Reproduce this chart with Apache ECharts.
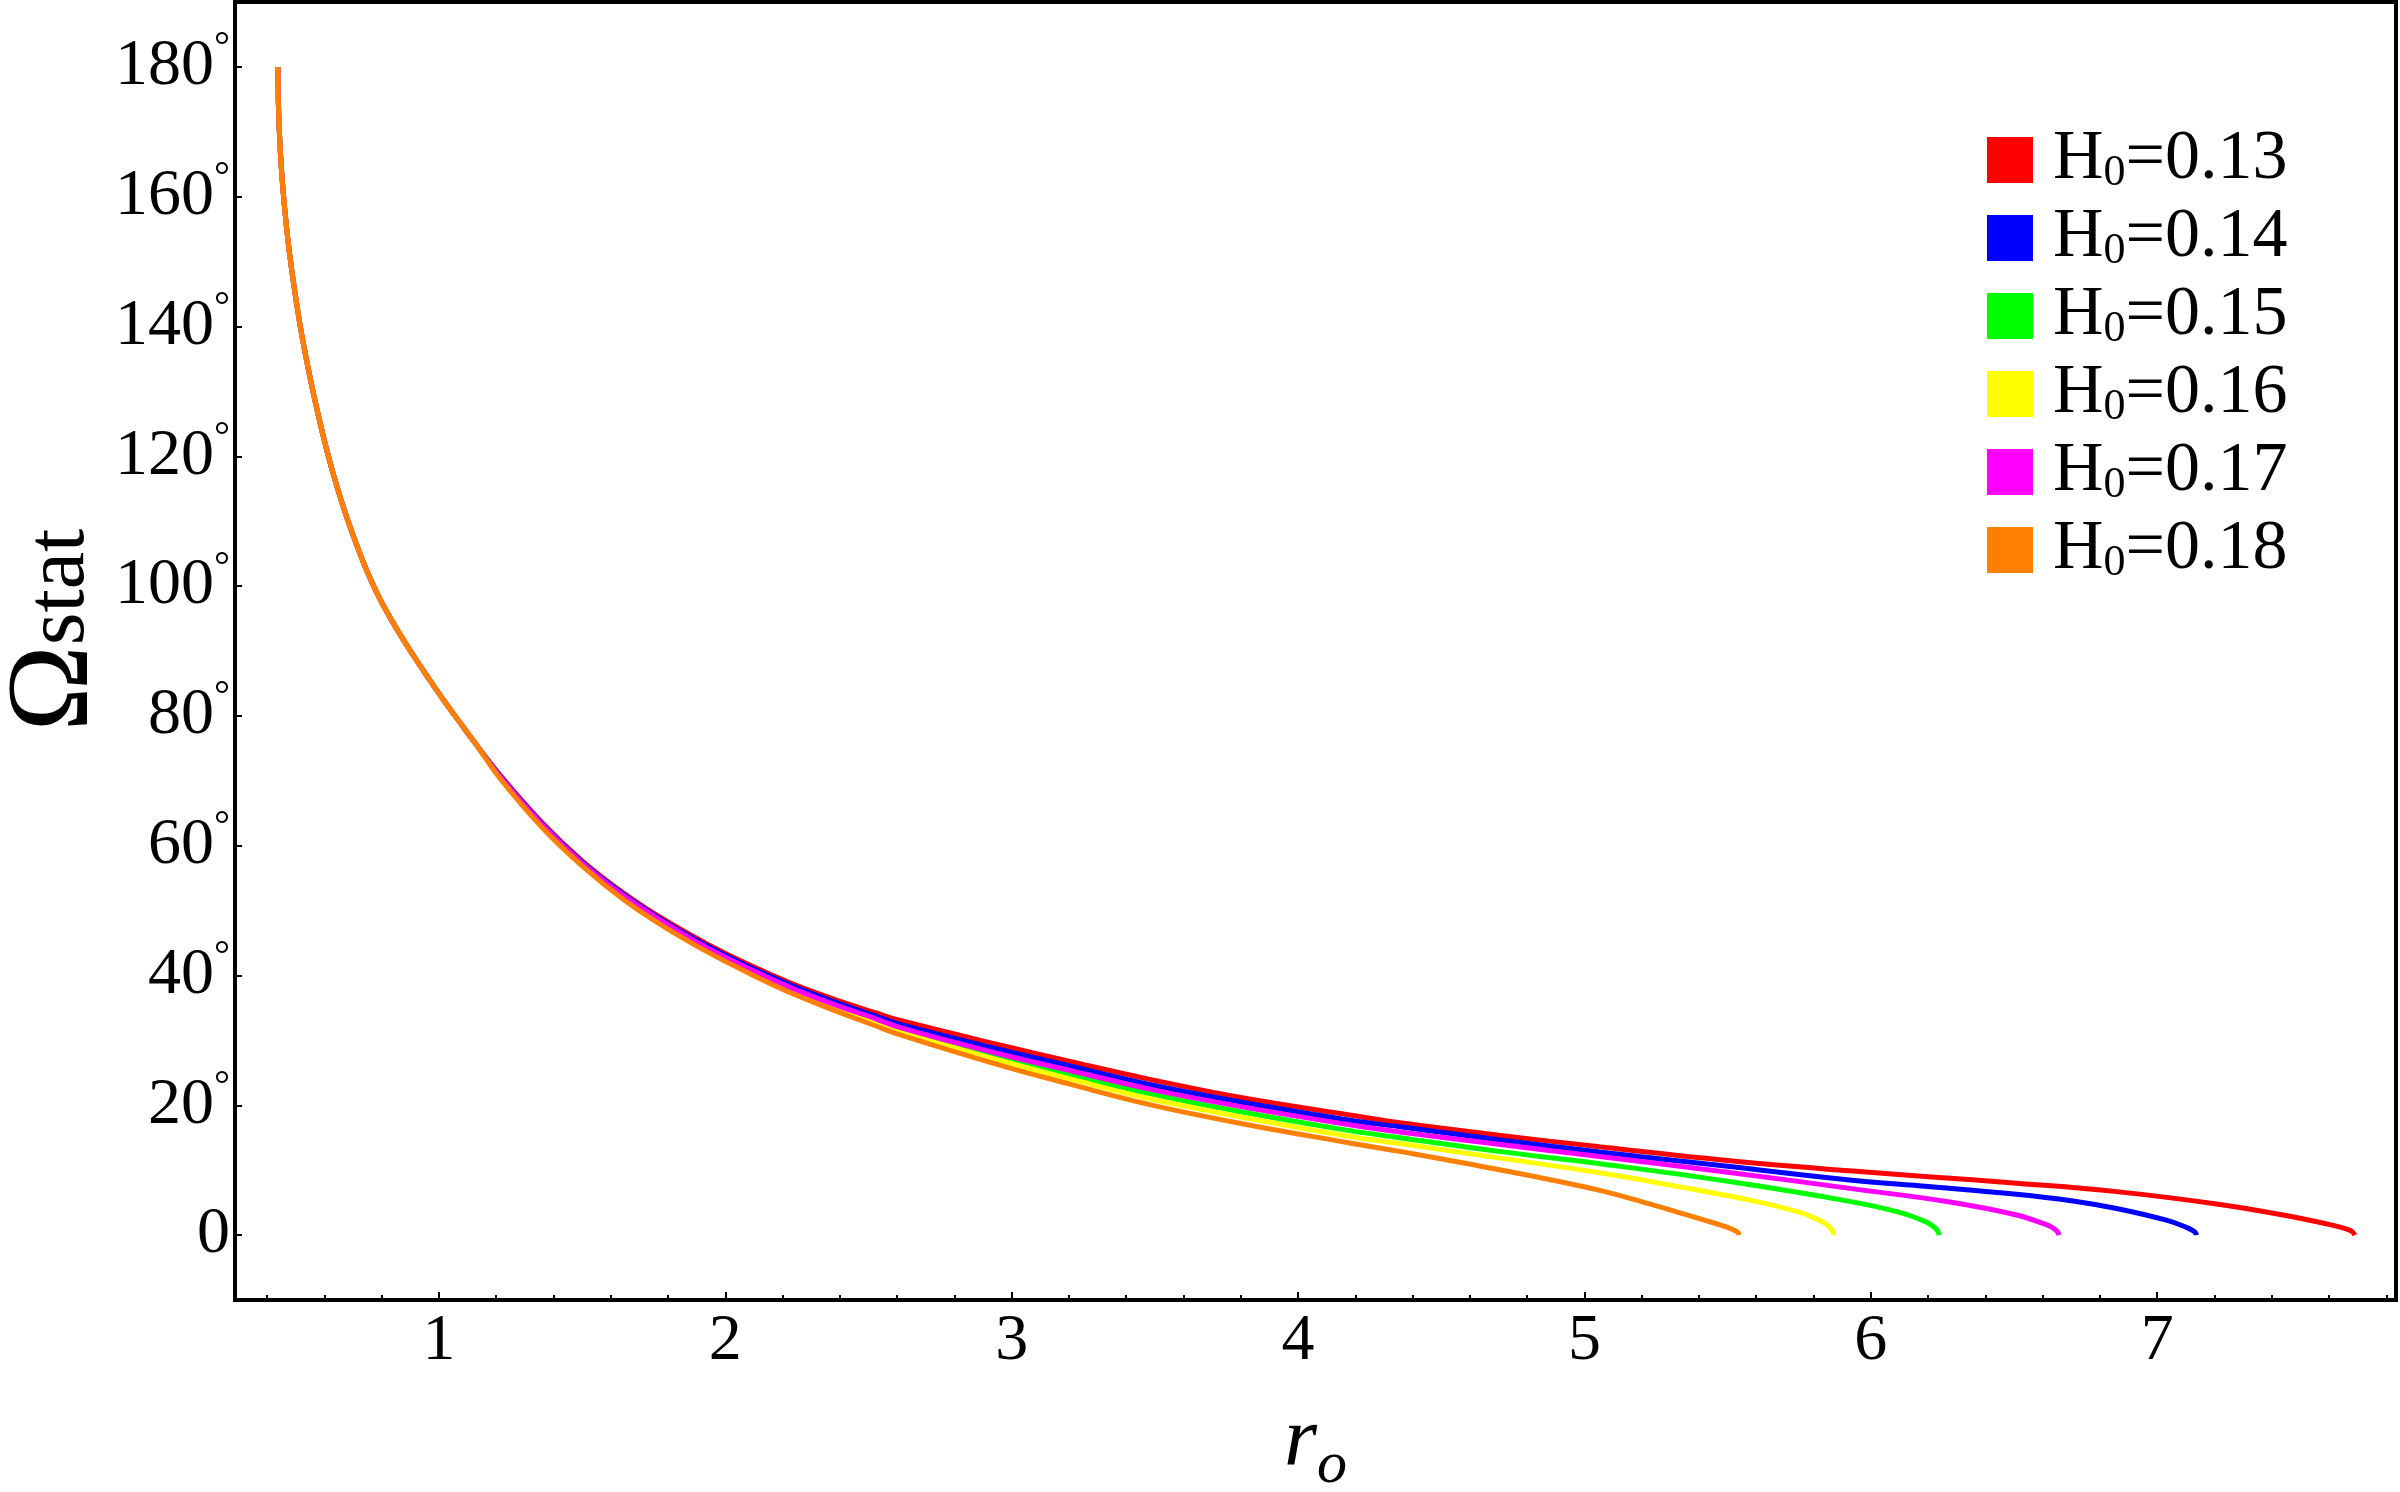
<!DOCTYPE html>
<html><head><meta charset="utf-8">
<script src="https://cdn.jsdelivr.net/npm/echarts@6/dist/echarts.min.js"></script>
<style>html,body{margin:0;padding:0;background:#fff}#c{width:2400px;height:1492px}</style>
</head><body><div id="c"></div>
<script>
// Shared steep part (all six curves coincide here), [r_o, Omega_stat in degrees]
const head = [[0.438,180],[0.439,175.5],[0.441,172.2],[0.444,169.0],[0.448,165.7],[0.455,161.4],[0.466,156.1],[0.478,151.4],[0.495,145.9],[0.513,140.8],[0.530,136.6],[0.554,131.3],[0.577,126.7],[0.603,121.9],[0.629,117.6],[0.664,112.5],[0.699,108.0],[0.746,102.6],[0.792,98.2],[0.850,93.6],[0.908,89.5],[0.967,85.6],[1.025,81.9],[1.078,78.7],[1.130,75.6]];
const tailRed = [[1.211,71.0],[1.357,63.7],[1.502,57.6],[1.648,52.6],[1.794,48.4],[1.939,44.8],[2.085,41.6],[2.230,38.8],[2.376,36.4],[2.521,34.3],[2.608,33.1],[2.958,29.3],[3.200,26.8],[3.482,24.0],[3.800,21.2],[4.180,18.5],[4.355,17.3],[4.700,15.4],[5.053,13.6],[5.500,11.5],[5.926,9.9],[6.200,9.0],[6.509,8.0],[6.858,6.7],[7.207,4.8],[7.440,3.1],[7.615,1.5],[7.665,0.87],[7.682,0.5],[7.690,0]];
const tailBlue = [[1.211,70.9],[1.357,63.55],[1.502,57.4],[1.648,52.4],[1.794,48.15],[1.939,44.5],[2.085,41.3],[2.230,38.5],[2.376,36.0],[2.521,33.8],[2.608,32.5],[2.958,28.6],[3.200,26.1],[3.482,23.2],[3.800,20.5],[4.180,17.7],[4.355,16.7],[4.700,14.7],[5.053,12.8],[5.500,10.6],[5.926,8.5],[6.200,7.5],[6.509,6.3],[6.700,5.3],[6.858,4.1],[7.032,2.3],[7.102,1.2],[7.125,0.7],[7.134,0.35],[7.137,0]];
const tailGreen = [[1.211,70.7],[1.357,63.25],[1.502,57.1],[1.648,52.0],[1.794,47.75],[1.939,44.0],[2.085,40.8],[2.230,37.8],[2.376,35.3],[2.521,33.0],[2.608,31.6],[2.958,27.4],[3.200,24.8],[3.482,21.8],[3.800,19.0],[4.180,16.1],[4.355,15.0],[4.700,12.9],[5.053,11.0],[5.500,8.3],[5.926,5.2],[6.101,3.5],[6.194,2.0],[6.222,1.2],[6.234,0.6],[6.238,0]];
const tailYellow = [[1.211,70.6],[1.357,63.1],[1.502,56.95],[1.648,51.8],[1.794,47.55],[1.939,43.8],[2.085,40.5],[2.230,37.6],[2.376,35.0],[2.521,32.7],[2.608,31.3],[2.958,26.9],[3.200,24.1],[3.482,21.0],[3.800,18.2],[4.180,15.2],[4.355,14.1],[4.700,11.9],[5.053,9.6],[5.300,7.7],[5.577,5.4],[5.752,3.5],[5.833,2.0],[5.857,1.2],[5.868,0.55],[5.871,0]];
const tailMagenta = [[1.211,70.8],[1.357,63.4],[1.502,57.25],[1.648,52.2],[1.794,47.95],[1.939,44.2],[2.085,41.0],[2.230,38.1],[2.376,35.6],[2.521,33.4],[2.608,32.0],[2.958,27.9],[3.200,25.4],[3.482,22.5],[3.800,19.8],[4.180,17.0],[4.355,15.9],[4.700,14.0],[5.053,12.1],[5.500,9.7],[5.926,7.2],[6.276,5.1],[6.509,3.1],[6.613,1.6],[6.640,1.0],[6.652,0.5],[6.657,0]];
const tailOrange = [[1.211,70.5],[1.357,62.95],[1.502,56.8],[1.648,51.6],[1.794,47.3],[1.939,43.6],[2.085,40.3],[2.230,37.3],[2.376,34.7],[2.521,32.3],[2.608,30.9],[2.958,26.2],[3.200,23.3],[3.482,20.1],[3.800,17.2],[4.180,14.2],[4.355,12.9],[4.700,10.1],[5.053,6.9],[5.227,4.8],[5.343,3.3],[5.461,1.75],[5.500,1.2],[5.525,0.7],[5.537,0.35],[5.540,0]];

const seriesNames = ['H0=0.13','H0=0.14','H0=0.15','H0=0.16','H0=0.17','H0=0.18'];
const seriesColors = ['#FF0000','#0000FF','#00FF00','#FFFF00','#FF00FF','#FF8000'];
const seriesTails = [tailRed, tailBlue, tailGreen, tailYellow, tailMagenta, tailOrange];

const yTicks = [0,20,40,60,80,100,120,140,160,180];
const xTicks = [1,2,3,4,5,6,7];
const xMinorTicks = [0.4,0.6,0.8,1.2,1.4,1.6,1.8,2.2,2.4,2.6,2.8,3.2,3.4,3.6,3.8,4.2,4.4,4.6,4.8,5.2,5.4,5.6,5.8,6.2,6.4,6.6,6.8,7.2,7.4,7.6,7.8];

const FONT = '"Liberation Serif", "Times New Roman", serif';
const X_MIN = 0.288, X_MAX = 7.834, Y_MIN = -10, Y_MAX = 190;

const chart = echarts.init(document.getElementById('c'), null, {renderer: 'canvas'});
const option = {
  animation: false,
  backgroundColor: '#fff',
  grid: {left: 235, right: 4, top: 2, bottom: 192, show: true, borderColor: '#000', borderWidth: 4,
         backgroundColor: 'transparent', containLabel: false, outerBoundsMode: 'none'},
  legend: {
    orient: 'vertical', left: 1982, top: 120, padding: 5,
    itemWidth: 46, itemHeight: 46, itemGap: 8, icon: 'rect', selectedMode: false,
    data: seriesNames.map((n, i) => ({name: n, itemStyle: {color: seriesColors[i]}})),
    formatter: n => '{h|H}{s|0}{t|' + n.slice(2) + '}',
    textStyle: {
      color: '#000',
      rich: {
        h: {fontFamily: FONT, fontSize: 70, padding: [0,0,0,15], color: '#000'},
        s: {fontFamily: FONT, fontSize: 44, lineHeight: 20, padding: [26,0,0,0], color: '#000'},
        t: {fontFamily: FONT, fontSize: 70, color: '#000'}
      }
    }
  },
  xAxis: [{
    type: 'value', min: X_MIN, max: X_MAX, position: 'bottom',
    axisLine: {show: false, onZero: false}, splitLine: {show: false},
    axisTick: {show: true, inside: true, length: 8, customValues: xTicks, lineStyle: {color: '#000', width: 2}},
    axisLabel: {show: true, customValues: xTicks, margin: 9, fontFamily: FONT, fontSize: 66, color: '#000'},
    name: '{r|r}{o|o}', nameLocation: 'middle', nameGap: 100, nameMoveOverlap: false,
    nameTextStyle: {rich: {
      r: {fontFamily: FONT, fontStyle: 'italic', fontSize: 85, color: '#000'},
      o: {fontFamily: FONT, fontStyle: 'italic', fontSize: 60, lineHeight: 30, padding: [47,0,0,0], color: '#000'}
    }}
  }, {
    type: 'value', min: X_MIN, max: X_MAX, position: 'bottom',
    axisLine: {show: false, onZero: false}, splitLine: {show: false}, axisLabel: {show: false},
    axisTick: {show: true, inside: true, length: 5, customValues: xMinorTicks, lineStyle: {color: '#000', width: 2}}
  }],
  yAxis: {
    type: 'value', min: Y_MIN, max: Y_MAX, position: 'left',
    axisLine: {show: false, onZero: false}, splitLine: {show: false},
    axisTick: {show: true, inside: true, length: 7, customValues: yTicks, lineStyle: {color: '#000', width: 2}},
    axisLabel: {
      show: true, customValues: yTicks, margin: 5,
      formatter: v => v === 0 ? '{n|0}' : '{n|' + v + '}{d|°}',
      rich: {
        n: {fontFamily: FONT, fontSize: 66, color: '#000'},
        d: {fontFamily: FONT, fontSize: 40, padding: [0,0,36,0], color: '#000'}
      }
    },
    name: '{o|Ω}{s|stat}', nameLocation: 'middle', nameRotate: 90, nameGap: 120, nameMoveOverlap: false,
    nameTextStyle: {rich: {
      o: {fontFamily: FONT, fontSize: 116, padding: [0,0,0,42], color: '#000'},
      s: {fontFamily: FONT, fontSize: 84, padding: [8,0,0,0], color: '#000'}
    }}
  },
  series: seriesNames.map((n, i) => ({
    name: n, type: 'line', xAxisIndex: 0, yAxisIndex: 0,
    data: head.concat(seriesTails[i]),
    showSymbol: false, symbol: 'none', smooth: 0.4,
    color: seriesColors[i],
    lineStyle: {color: seriesColors[i], width: 5},
    itemStyle: {color: seriesColors[i]},
    clip: false
  }))
};
chart.setOption(option);
</script></body></html>
